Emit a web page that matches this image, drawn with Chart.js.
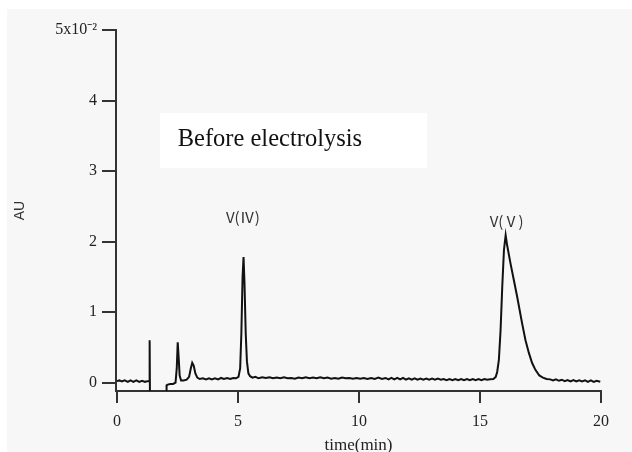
<!DOCTYPE html>
<html>
<head>
<meta charset="utf-8">
<script src="https://cdn.jsdelivr.net/npm/chart.js@4.4.1/dist/chart.umd.min.js"></script>
<style>
  html, body { margin: 0; padding: 0; background: #fff; }
  canvas { display: block; }
</style>
</head>
<body>
<canvas id="hplcChart" width="632" height="452"></canvas>
<script>
// retention time (min) and absorbance (x10^-2 AU)
const timeMin = [
    0.00, 0.10, 0.20, 0.32, 0.45, 0.56, 0.68, 0.80, 0.92, 1.04, 1.16, 1.26, 1.33, 1.35, 1.37,
    2.03, 2.05, 2.10, 2.20, 2.32, 2.42, 2.47, 2.51, 2.55, 2.59, 2.65, 2.75, 2.88, 2.98, 3.05,
    3.11, 3.17, 3.24, 3.32, 3.42, 3.55, 3.68, 3.80, 3.92, 4.05, 4.18, 4.30, 4.42, 4.55, 4.68,
    4.80, 4.92, 5.02, 5.09, 5.14, 5.19, 5.23, 5.27, 5.32, 5.37, 5.43, 5.50, 5.60, 5.72, 5.85,
    6.00, 6.15, 6.30, 6.45, 6.60, 6.75, 6.90, 7.05, 7.20, 7.35, 7.50, 7.65, 7.80, 7.95, 8.10,
    8.25, 8.40, 8.55, 8.70, 8.85, 9.00, 9.15, 9.30, 9.45, 9.60, 9.75, 9.90, 10.05, 10.20, 10.35,
    10.50, 10.65, 10.80, 10.95, 11.10, 11.22, 11.34, 11.46, 11.58, 11.70, 11.82, 11.94, 12.06, 12.18, 12.30,
    12.42, 12.54, 12.66, 12.78, 12.90, 13.02, 13.14, 13.26, 13.38, 13.50, 13.62, 13.74, 13.86, 13.98, 14.10,
    14.22, 14.34, 14.46, 14.58, 14.70, 14.82, 14.94, 15.06, 15.18, 15.30, 15.42, 15.55, 15.65, 15.71, 15.78,
    15.85, 15.92, 15.99, 16.06, 16.12, 16.26, 16.40, 16.54, 16.74, 16.88, 17.02, 17.15, 17.29, 17.45, 17.60,
    17.75, 17.90, 18.02, 18.14, 18.26, 18.38, 18.50, 18.62, 18.74, 18.86, 18.98, 19.10, 19.22, 19.34, 19.46,
    19.58, 19.70, 19.82, 19.97
];
const absorbance = [
    0.02, 0.03, 0.015, 0.03, 0.01, 0.03, 0.01, 0.03, 0.01, 0.025, 0.01, 0.02, 0.02, 0.60, -0.60,
    -0.60, -0.04, -0.03, -0.02, -0.02, 0.00, 0.20, 0.57, 0.35, 0.10, 0.03, 0.03, 0.04, 0.08, 0.20,
    0.28, 0.24, 0.13, 0.07, 0.05, 0.06, 0.045, 0.06, 0.045, 0.06, 0.045, 0.065, 0.05, 0.065, 0.05,
    0.065, 0.06, 0.08, 0.20, 0.70, 1.50, 1.78, 1.40, 0.70, 0.30, 0.13, 0.09, 0.07, 0.08, 0.06,
    0.075, 0.065, 0.075, 0.06, 0.07, 0.06, 0.075, 0.06, 0.065, 0.055, 0.07, 0.06, 0.075, 0.06, 0.07,
    0.06, 0.075, 0.06, 0.07, 0.055, 0.065, 0.055, 0.07, 0.06, 0.065, 0.055, 0.065, 0.055, 0.065, 0.05,
    0.065, 0.05, 0.07, 0.05, 0.065, 0.045, 0.065, 0.045, 0.065, 0.045, 0.065, 0.04, 0.06, 0.04, 0.06,
    0.04, 0.055, 0.04, 0.055, 0.04, 0.055, 0.04, 0.055, 0.04, 0.05, 0.035, 0.05, 0.035, 0.05, 0.035,
    0.05, 0.035, 0.05, 0.035, 0.05, 0.035, 0.05, 0.035, 0.05, 0.04, 0.045, 0.05, 0.08, 0.15, 0.32,
    0.74, 1.36, 1.88, 2.09, 1.95, 1.69, 1.45, 1.21, 0.84, 0.60, 0.42, 0.28, 0.18, 0.10, 0.07,
    0.05, 0.045, 0.03, 0.045, 0.025, 0.04, 0.02, 0.035, 0.015, 0.035, 0.015, 0.03, 0.015, 0.03, 0.01,
    0.03, 0.01, 0.025, 0.01
];

const xTicks = [0, 5, 10, 15, 20];
const yTicks = [0, 1, 2, 3, 4, 5];

// peak labels: [time, AU, text]
const peakLabels = [
    [5.2, 2.35, 'V(Ⅳ)'],
    [16.1, 2.28, 'V(Ⅴ)']
];

const serif = '"Liberation Serif", "Times New Roman", serif';

const decor = {
    id: 'decor',
    beforeDraw(chart) {
        const c = chart.ctx;
        const x = chart.scales.x, y = chart.scales.y;
        c.save();
        c.fillStyle = '#ffffff';
        c.fillRect(0, 0, chart.width, chart.height);
        c.fillStyle = '#f7f7f7';
        c.fillRect(7, 9, chart.width - 7, chart.height - 9);
        // white box behind the caption
        const bx = x.getPixelForValue(1.77), by = y.getPixelForValue(3.82);
        c.fillStyle = '#ffffff';
        c.fillRect(bx, by, x.getPixelForValue(12.81) - bx, y.getPixelForValue(3.04) - by);
        c.restore();
    },
    afterDatasetsDraw(chart) {
        const c = chart.ctx;
        const x = chart.scales.x, y = chart.scales.y;
        c.save();
        c.fillStyle = '#111';
        c.font = '24.5px ' + serif;
        c.textAlign = 'left';
        c.textBaseline = 'alphabetic';
        c.fillText('Before electrolysis', x.getPixelForValue(2.51), y.getPixelForValue(3.35));
        c.fillStyle = '#333';
        c.font = '15px "Noto Sans CJK SC", sans-serif';
        c.textAlign = 'center';
        c.textBaseline = 'middle';
        peakLabels.forEach(p => {
            c.fillText(p[2], x.getPixelForValue(p[0]), y.getPixelForValue(p[1]));
        });
        c.restore();
    }
};

const ctx = document.getElementById('hplcChart').getContext('2d');

new Chart(ctx, {
    type: 'line',
    data: {
        datasets: [{
            data: timeMin.map((t, i) => ({ x: t, y: absorbance[i] })),
            borderColor: '#111',
            borderWidth: 2,
            pointRadius: 0,
            tension: 0,
            fill: false
        }]
    },
    options: {
        responsive: false,
        animation: false,
        devicePixelRatio: 1,
        layout: { padding: { top: 30, right: 31, left: 0, bottom: 0 } },
        plugins: {
            legend: { display: false },
            tooltip: { enabled: false }
        },
        scales: {
            x: {
                type: 'linear',
                min: -0.04,
                max: 20,
                afterBuildTicks: axis => { axis.ticks = xTicks.map(v => ({ value: v })); },
                afterFit: axis => { axis.height = 61; },
                border: { color: '#333', width: 2 },
                grid: { drawOnChartArea: false, color: '#333', lineWidth: 2, tickLength: 12 },
                ticks: { color: '#222', font: { family: serif, size: 16 }, padding: 9, maxRotation: 0 },
                title: {
                    display: true,
                    text: 'time(min)',
                    color: '#222',
                    font: { family: serif, size: 17 },
                    padding: { top: 0, bottom: -4 }
                }
            },
            y: {
                min: -0.12,
                max: 5,
                afterBuildTicks: axis => { axis.ticks = yTicks.map(v => ({ value: v })); },
                afterFit: axis => { axis.width = 116; },
                border: { color: '#333', width: 2 },
                grid: { drawOnChartArea: false, color: '#333', lineWidth: 2, tickLength: 14 },
                ticks: {
                    color: '#222',
                    font: { family: serif, size: 16 },
                    padding: 5,
                    callback: v => v === 5 ? '5x10⁻²' : String(v)
                },
                title: {
                    display: true,
                    text: 'AU',
                    color: '#333',
                    font: { family: '"Liberation Sans", Arial, sans-serif', size: 14 },
                    padding: { top: 12, bottom: 0 }
                }
            }
        }
    },
    plugins: [decor]
});
</script>
</body>
</html>
